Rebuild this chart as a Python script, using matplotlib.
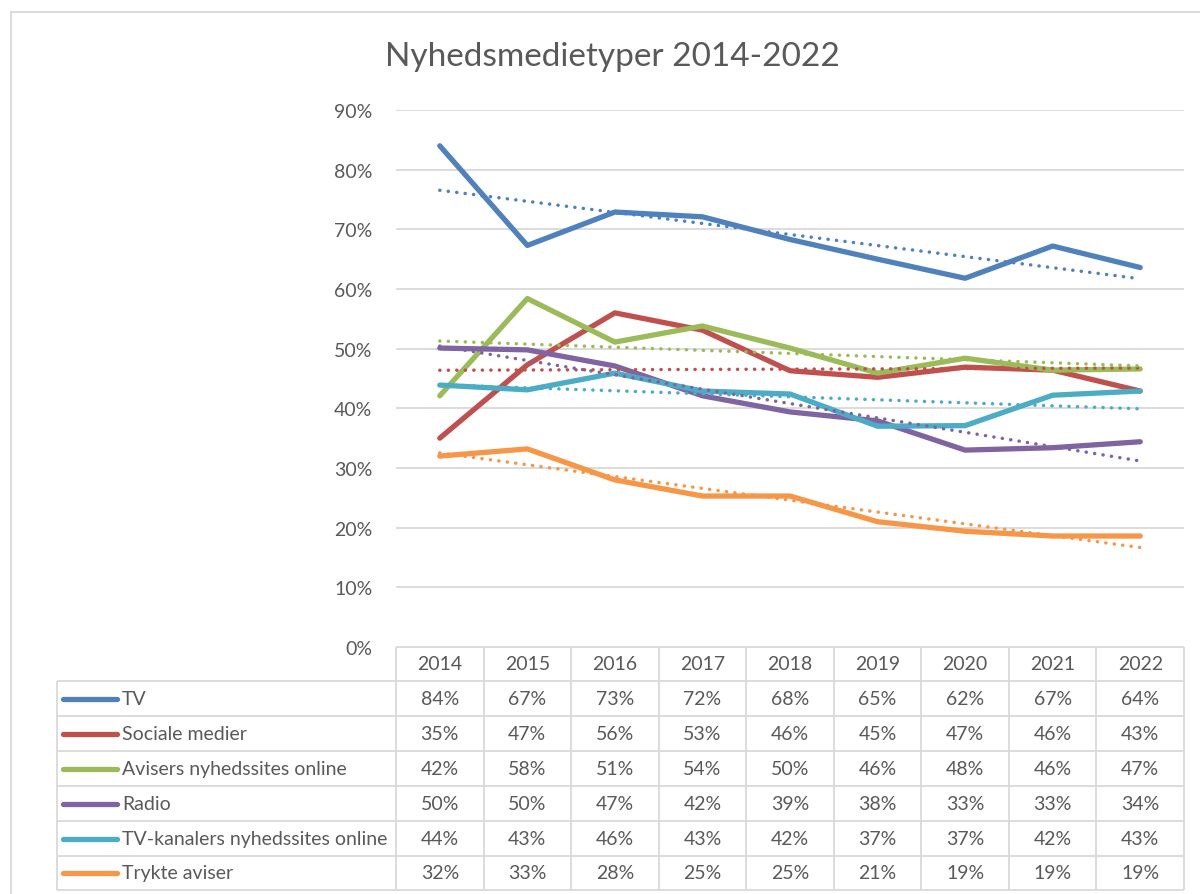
import matplotlib
matplotlib.use('Agg')
import matplotlib.pyplot as plt
import numpy as np

plt.rcParams['font.family'] = ['Lato', 'DejaVu Sans']

years = ['2014', '2015', '2016', '2017', '2018', '2019', '2020', '2021', '2022']
series_names = ['TV', 'Sociale medier', 'Avisers nyhedssites online', 'Radio',
                'TV-kanalers nyhedssites online', 'Trykte aviser']

# values (fractions)
tv = [0.840, 0.673, 0.729, 0.721, 0.683, 0.650, 0.618, 0.672, 0.636]
sociale = [0.350, 0.473, 0.560, 0.531, 0.463, 0.452, 0.469, 0.464, 0.429]
avisers = [0.421, 0.584, 0.511, 0.538, 0.501, 0.459, 0.484, 0.464, 0.466]
radio = [0.501, 0.498, 0.471, 0.421, 0.394, 0.379, 0.330, 0.334, 0.344]
tvkanal = [0.439, 0.431, 0.459, 0.429, 0.424, 0.370, 0.371, 0.422, 0.429]
trykte = [0.320, 0.332, 0.280, 0.253, 0.253, 0.210, 0.194, 0.186, 0.186]

colors = ['#4F81BD', '#C0504D', '#9BBB59', '#8064A2', '#4BACC6', '#F79646']
all_series = [tv, sociale, avisers, radio, tvkanal, trykte]

txt = '#595959'
grid = '#D9D9D9'

fig = plt.figure(figsize=(12, 8.95), dpi=100)

# plot area lines up with the table columns
ax = fig.add_axes([396/1200, 1-648/895, 788/1200, (648-111)/895])
x = np.arange(len(years))
for vals, c in zip(all_series, colors):
    ax.plot(x, vals, color=c, lw=3.8, solid_capstyle='round', solid_joinstyle='round', zorder=3)
    # linear trendline, dotted
    k, m = np.polyfit(x, vals, 1)
    ax.plot(x, k*x + m, color=c, lw=2.5, ls=(0, (0.05, 2.4)), dash_capstyle='round', zorder=4)

ax.set_xlim(-0.5, len(years)-0.5)
ax.set_ylim(0, 0.9)
ax.set_yticks(np.arange(0, 0.91, 0.1))
ax.set_yticklabels(['%d%%' % round(v*100) for v in np.arange(0, 0.91, 0.1)])
ax.tick_params(axis='y', length=0, pad=17, labelsize=14, labelcolor=txt)
ax.set_xticks([])
ax.grid(axis='y', color=grid, lw=1.3)
ax.set_axisbelow(True)
for s in ax.spines.values():
    s.set_visible(False)

# overlay in pixel coordinates for frame, title and the data table
ov = fig.add_axes([0, 0, 1, 1], zorder=-1)
ov.set_xlim(0, 1200)
ov.set_ylim(895, 0)
ov.axis('off')

ov.plot([11, 1200], [13, 13], color=grid, lw=1.3)
ov.plot([11, 11], [13, 895], color=grid, lw=1.3)

fig.text(612/1200, 1-57/895, 'Nyhedsmedietyper 2014-2022', ha='center', va='center',
         fontsize=24, color=txt)

col_left = 396
col_w = 788 / len(years)
tab_left = 57
head_top = 648
row_tops = [682, 717, 752, 787, 822, 857, 891]

lc = dict(color=grid, lw=1.3, solid_capstyle='butt')
# header row
ov.plot([col_left, 1184], [head_top, head_top], **lc)
for i in range(len(years)+1):
    xx = col_left + i*col_w
    ov.plot([xx, xx], [head_top, row_tops[-1]], **lc)
for i, yr in enumerate(years):
    ov.text(col_left + (i+0.5)*col_w, (head_top+row_tops[0])/2, yr, ha='center', va='center',
            fontsize=14, color=txt)
# data rows
for yy in row_tops:
    ov.plot([tab_left, 1184], [yy, yy], **lc)
ov.plot([tab_left, tab_left], [row_tops[0], row_tops[-1]], **lc)

for r, (name, vals, c) in enumerate(zip(series_names, all_series, colors)):
    yc = (row_tops[r] + row_tops[r+1]) / 2
    ov.plot([63, 117], [yc, yc], color=c, lw=3.8, solid_capstyle='round')
    ov.text(122, yc, name, ha='left', va='center', fontsize=14, color=txt)
    for i, v in enumerate(vals):
        ov.text(col_left + (i+0.5)*col_w, yc, '%d%%' % round(v*100), ha='center', va='center',
                fontsize=14, color=txt)

fig.savefig('out.png', dpi=100, facecolor='white')
